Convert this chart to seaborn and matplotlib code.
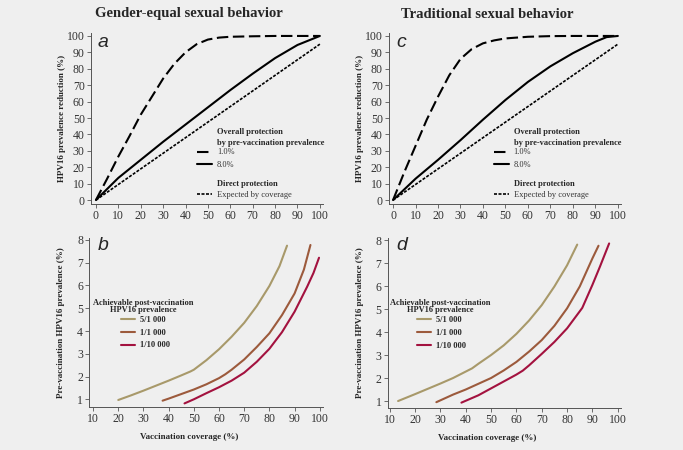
import numpy as np
import pandas as pd
import matplotlib
matplotlib.use("Agg")
import matplotlib.pyplot as plt
from matplotlib.lines import Line2D
import seaborn as sns

# ---------------- data ----------------
# Panel a (gender-equal) : coverage vs prevalence reduction
a_dash_x = [0, 5, 10, 15, 20, 25, 30, 35, 40, 45, 50, 55, 60, 70, 80, 90, 100]
a_dash_y = [0, 13, 26.5, 39, 52, 63, 74, 83, 90, 95, 97.8, 99, 99.5, 99.8, 100, 100, 100]
a_solid_x = [0, 10, 20, 30, 40, 50, 60, 70, 80, 90, 100]
a_solid_y = [0, 13.5, 24.5, 35.5, 46, 56.5, 67, 77, 86.5, 94.5, 100]
# Panel c (traditional)
c_dash_x = [0, 5, 10, 15, 20, 25, 30, 35, 40, 45, 50, 60, 70, 80, 100]
c_dash_y = [0, 17, 33, 49, 63, 76, 86, 92, 95.5, 97.3, 98.5, 99.5, 99.9, 100, 100]
c_solid_x = [0, 10, 20, 30, 40, 50, 60, 70, 80, 90, 95, 100]
c_solid_y = [0, 13, 24.5, 36.5, 49, 61, 72, 81.5, 89.5, 96.5, 99.3, 100]
# Direct protection (expected by coverage)
direct_x = [0, 100]
direct_y = [0, 95]

# Panel b (gender-equal): coverage needed vs pre-vaccination prevalence
b_5k_x = [20, 25, 30, 35, 40, 45, 48.6, 50, 55, 60, 65, 70, 75, 80, 84, 87]
b_5k_y = [0.97, 1.17, 1.38, 1.6, 1.82, 2.05, 2.22, 2.3, 2.72, 3.2, 3.75, 4.36, 5.1, 5.98, 6.85, 7.75]
b_1k_x = [37.6, 40, 45, 50, 55, 60, 62.5, 65, 70, 75, 80, 85, 90, 93.7, 96.3]
b_1k_y = [0.94, 1.03, 1.23, 1.43, 1.66, 1.93, 2.1, 2.3, 2.75, 3.3, 3.9, 4.7, 5.65, 6.7, 7.78]
b_10k_x = [46.3, 50, 55, 60, 65, 70, 75, 80, 85, 90, 95, 97.5, 99.7]
b_10k_y = [0.82, 1.0, 1.27, 1.53, 1.82, 2.17, 2.65, 3.22, 3.95, 4.85, 5.95, 6.55, 7.22]
# Panel d (traditional)
d_5k_x = [13.3, 20, 25, 30, 35, 40, 42.5, 45, 50, 55, 60, 65, 70, 75, 80, 84]
d_5k_y = [1.0, 1.3, 1.53, 1.76, 2.0, 2.28, 2.42, 2.62, 3.0, 3.42, 3.92, 4.5, 5.17, 5.98, 6.9, 7.8]
d_1k_x = [28.4, 35, 40, 45, 50, 55, 60, 65, 70, 75, 80, 85, 90, 92.4]
d_1k_y = [0.95, 1.28, 1.5, 1.75, 2.0, 2.33, 2.7, 3.15, 3.65, 4.27, 5.03, 5.98, 7.2, 7.75]
d_10k_x = [38.3, 45, 50, 55, 60, 62.5, 65, 70, 75, 80, 85, 86, 90, 93, 96.6]
d_10k_y = [0.93, 1.25, 1.55, 1.85, 2.15, 2.32, 2.55, 3.05, 3.57, 4.16, 4.9, 5.05, 6.05, 6.85, 7.85]

prev_labels = ["1.0%", "8.0%"]
post_labels = ["5/1 000", "1/1 000", "1/10 000"]
titles = ["Gender-equal sexual behavior", "Traditional sexual behavior"]
panel_letters = ["a", "b", "c", "d"]

# ---------------- style ----------------
BG = "#efefef"
C5K, C1K, C10K = "#a8996a", "#9c5a3c", "#a3123f"
sns.set_theme(style="ticks")
plt.rcParams["font.family"] = ["Liberation Serif", "DejaVu Serif"]
plt.rcParams["axes.edgecolor"] = "#555555"
plt.rcParams["xtick.color"] = "#555555"
plt.rcParams["ytick.color"] = "#555555"
plt.rcParams["xtick.labelcolor"] = "#333333"
plt.rcParams["ytick.labelcolor"] = "#333333"

fig = plt.figure(figsize=(6.83, 4.5), dpi=100, facecolor=BG)

def px_axes(l, r, t, b):
    W, H = 683.0, 450.0
    return fig.add_axes([l / W, 1 - b / H, (r - l) / W, (b - t) / H])

ax_a = px_axes(91, 323, 33, 204)
ax_c = px_axes(389, 621, 33, 204)
ax_b = px_axes(89.3, 323.3, 237.7, 406.7)
ax_d = px_axes(387.7, 621.3, 237.7, 407.7)

DASH = (0, (5.5, 2.2))
DOT = (0, (1.8, 0.9))

def style_ax(ax):
    ax.set_facecolor(BG)
    sns.despine(ax=ax)
    ax.spines["left"].set_linewidth(0.7)
    ax.spines["bottom"].set_linewidth(0.7)
    ax.tick_params(axis="both", which="both", direction="out", length=3, width=0.6,
                   labelsize=8.5, pad=1.5)
    ax.set_xlabel("")
    ax.set_ylabel("")

def top_panel(ax, dx, dy, sx, sy, letter, xmin):
    sns.lineplot(x=dx, y=dy, ax=ax, color="black", linestyle=DASH, linewidth=1.5)
    sns.lineplot(x=sx, y=sy, ax=ax, color="black", linewidth=1.5)
    sns.lineplot(x=direct_x, y=direct_y, ax=ax, color="black", linestyle=DOT, linewidth=1.2)
    style_ax(ax)
    ax.set_xlim(xmin, 101.4)
    ax.set_ylim(-2.4, 101.8)
    ax.set_xticks(range(0, 101, 10))
    ax.set_yticks(range(0, 101, 10))
    ax.text(0.03, 0.945, letter, transform=ax.transAxes, fontsize=14, style="italic",
            family=["Liberation Sans", "DejaVu Sans"], ha="left", va="center")
    ax.text(-0.125, 0.5, "HPV16 prevalence reduction (%)", transform=ax.transAxes,
            rotation=90, ha="center", va="center", fontsize=6.5, fontweight="bold")

def legend_top(ax, hx, tx):
    ax.text(tx, 0.421, "Overall protection", transform=ax.transAxes, fontsize=6,
            fontweight="bold", ha="left", va="center")
    ax.text(tx, 0.357, "by pre-vaccination prevalence", transform=ax.transAxes, fontsize=6,
            fontweight="bold", ha="left", va="center")
    h1 = [Line2D([], [], color="black", linestyle=DASH, linewidth=1.5),
          Line2D([], [], color="black", linewidth=1.5)]
    leg1 = ax.legend(h1, prev_labels, loc="upper left", bbox_to_anchor=(hx, 0.325),
                     frameon=False, fontsize=6, handlelength=1.8, handletextpad=0.6,
                     borderpad=0, borderaxespad=0, labelspacing=0.55, labelcolor="#333333")
    ax.add_artist(leg1)
    ax.text(tx, 0.117, "Direct protection", transform=ax.transAxes, fontsize=6,
            fontweight="bold", ha="left", va="center")
    h2 = [Line2D([], [], color="black", linestyle=DOT, linewidth=1.2)]
    ax.legend(h2, ["Expected by coverage"], loc="upper left", bbox_to_anchor=(hx, 0.077),
              frameon=False, fontsize=6, handlelength=1.8, handletextpad=0.6,
              borderpad=0, borderaxespad=0, labelcolor="#333333")

def bottom_panel(ax, lines, letter, xmin, ymin, tx, hx, ytop):
    for (x, y), col in zip(lines, [C5K, C1K, C10K]):
        sns.lineplot(x=x, y=y, ax=ax, color=col, linewidth=1.5)
    style_ax(ax)
    ax.set_xlim(xmin, 101.4)
    ax.set_ylim(ymin, 8.1)
    ax.set_xticks(range(10, 101, 10))
    ax.set_yticks(range(1, 9))
    ax.text(0.035, 1.005, letter, transform=ax.transAxes, fontsize=14, style="italic",
            family=["Liberation Sans", "DejaVu Sans"], ha="left", va="top")
    ax.text(-0.12, 0.5, "Pre-vaccination HPV16 prevalence (%)", transform=ax.transAxes,
            rotation=90, ha="center", va="center", fontsize=6.5, fontweight="bold")
    ax.text(0.425, -0.18, "Vaccination coverage (%)", transform=ax.transAxes,
            ha="center", va="center", fontsize=6.5, fontweight="bold")
    ax.text(tx, 0.615, "Achievable post-vaccination", transform=ax.transAxes,
            ha="center", va="center", fontsize=6, fontweight="bold")
    ax.text(tx, 0.572, "HPV16 prevalence", transform=ax.transAxes,
            ha="center", va="center", fontsize=6, fontweight="bold")
    hs = [Line2D([], [], color=c, linewidth=1.5) for c in [C5K, C1K, C10K]]
    ax.legend(hs, post_labels, loc="upper left", bbox_to_anchor=(hx, ytop),
              frameon=False, fontsize=6, handlelength=1.7, handletextpad=0.6,
              borderpad=0, borderaxespad=0, labelspacing=0.55,
              prop={"weight": "bold", "size": 6})

top_panel(ax_a, a_dash_x, a_dash_y, a_solid_x, a_solid_y, panel_letters[0], -2.2)
legend_top(ax_a, 0.457, 0.543)
top_panel(ax_c, c_dash_x, c_dash_y, c_solid_x, c_solid_y, panel_letters[2], -1.8)
legend_top(ax_c, 0.451, 0.537)

bottom_panel(ax_b, [(b_5k_x, b_5k_y), (b_1k_x, b_1k_y), (b_10k_x, b_10k_y)],
             panel_letters[1], 8.5, 0.675, 0.2295, 0.1355, 0.535)
bottom_panel(ax_d, [(d_5k_x, d_5k_y), (d_1k_x, d_1k_y), (d_10k_x, d_10k_y)],
             panel_letters[3], 9.2, 0.71, 0.225, 0.125, 0.537)

fig.text(189 / 683, 1 - 14 / 450, titles[0], ha="center", va="center",
         fontsize=10.5, fontweight="bold")
fig.text(487 / 683, 1 - 14 / 450, titles[1], ha="center", va="center",
         fontsize=10.5, fontweight="bold")

fig.savefig("out.png", dpi=100, facecolor=BG)
